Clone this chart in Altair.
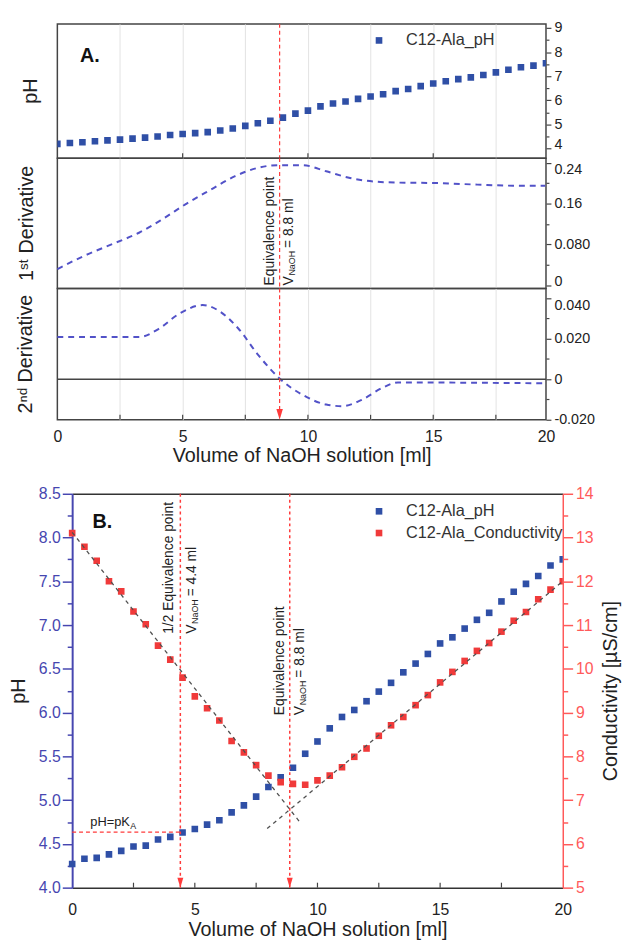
import altair as alt
import pandas as pd

FONT = "Liberation Sans"
TXT = "#222222"
FRAME = "#444444"
BLUE_PT = "#2f4fa6"
RED_PT = "#f03a3a"
DERIV = "#5252c8"
MARK_RED = "#ff3b3b"
AX_BLUE = "#4646b0"
AX_RED = "#ff5a5a"
FIT = "#505050"
GRID = "#e3e3e3"

# ---------------- data ----------------
a_vol = [0.0, 0.5, 1.0, 1.5, 2.0, 2.5, 3.0, 3.5, 4.0, 4.5, 5.0, 5.5, 6.0, 6.5, 7.0, 7.5, 8.0, 8.5, 9.0, 9.5,
         10.0, 10.5, 11.0, 11.5, 12.0, 12.5, 13.0, 13.5, 14.0, 14.5, 15.0, 15.5, 16.0, 16.5, 17.0, 17.5,
         18.0, 18.5, 19.0, 19.5]
a_ph = [4.19, 4.23, 4.26, 4.30, 4.34, 4.37, 4.41, 4.45, 4.50, 4.56, 4.60, 4.64, 4.68, 4.75, 4.83, 4.94,
        5.05, 5.15, 5.28, 5.45, 5.57, 5.75, 5.87, 5.95, 6.06, 6.16, 6.25, 6.38, 6.47, 6.59, 6.70, 6.79,
        6.88, 6.95, 7.05, 7.16, 7.27, 7.37, 7.44, 7.54]

d1_vol = [0.0, 1.03, 2.30, 3.26, 4.21, 5.16, 6.12, 7.07, 8.02, 8.82, 9.77, 10.73, 11.68, 12.63, 13.59,
          15.18, 16.76, 18.19, 19.47]
d1_val = [0.032, 0.057, 0.083, 0.103, 0.130, 0.160, 0.187, 0.213, 0.230, 0.235, 0.235, 0.223, 0.210,
          0.203, 0.201, 0.200, 0.197, 0.195, 0.195]

d2_vol = [0.0, 3.26, 4.05, 4.85, 5.80, 6.44, 7.23, 8.02, 8.90, 9.77, 10.73, 11.36, 12.16, 12.95, 13.59, 19.47]
d2_val = [0.0208, 0.0208, 0.0249, 0.0322, 0.0366, 0.0338, 0.0249, 0.0119, 0.0, -0.0076, -0.0125,
          -0.0133, -0.0101, -0.0044, -0.0016, -0.0020]

b_vol = [0.0, 0.5, 1.0, 1.5, 2.0, 2.5, 3.0, 3.5, 4.0, 4.5, 5.0, 5.5, 6.0, 6.5, 7.0, 7.5, 8.0, 8.5, 9.0, 9.5,
         10.0, 10.5, 11.0, 11.5, 12.0, 12.5, 13.0, 13.5, 14.0, 14.5, 15.0, 15.5, 16.0, 16.5, 17.0, 17.5,
         18.0, 18.5, 19.0, 19.5, 20.0]
b_ph = [4.27, 4.33, 4.34, 4.38, 4.42, 4.47, 4.48, 4.55, 4.58, 4.63, 4.67, 4.72, 4.77, 4.86, 4.94, 5.04,
        5.15, 5.26, 5.37, 5.53, 5.67, 5.82, 5.95, 6.03, 6.13, 6.24, 6.34, 6.46, 6.56, 6.67, 6.79, 6.86,
        6.96, 7.06, 7.14, 7.27, 7.38, 7.47, 7.56, 7.68, 7.75]
b_cond = [13.10, 12.79, 12.47, 12.00, 11.77, 11.31, 11.02, 10.53, 10.21, 9.80, 9.37, 9.10, 8.82, 8.35,
          8.09, 7.80, 7.56, 7.41, 7.37, 7.35, 7.45, 7.56, 7.75, 7.99, 8.18, 8.47, 8.71, 8.90, 9.17, 9.40,
          9.69, 9.93, 10.18, 10.41, 10.59, 10.85, 11.10, 11.30, 11.59, 11.81, 12.00]

fit_down_vol = [0.0, 9.25]
fit_down_cond = [13.12, 6.52]
fit_up_vol = [7.95, 20.0]
fit_up_cond = [6.35, 12.0]

eq_marker_vol = 8.87
half_marker_vol = 4.41
pka_ph = 4.635

inner_tick_vol = [2.5, 5, 7.5, 10, 12.5, 15, 17.5]
top_tick_vol = [5, 10, 15]

SER_PH = "C12-Ala_pH"
SER_COND = "C12-Ala_Conductivity"
X_TITLE = "Volume of NaOH solution [ml]"


def lab_expr(pairs):
    expr = "''"
    for v, s in reversed(pairs):
        expr = f"(abs(datum.value - ({v})) < 1e-6) ? '{s}' : {expr}"
    return expr


def right_axis(values, pairs, major_test, low=None, high=None):
    conds = []
    if low is not None:
        conds.append({"test": f"abs(datum.value - ({low})) < 1e-6", "value": "alphabetic"})
    if high is not None:
        conds.append({"test": f"abs(datum.value - ({high})) < 1e-6", "value": "top"})
    baseline = {"condition": conds, "value": "middle"} if conds else "middle"
    return alt.Axis(orient="right", values=values, labelExpr=lab_expr(pairs), labelOverlap=False,
                    tickSize={"condition": {"test": major_test, "value": 5}, "value": 3},
                    labelBaseline=baseline,
                    labelFontSize=14.5, ticks=True, tickColor=FRAME, tickWidth=1.2, domain=False, grid=False,
                    labelColor=TXT, labelPadding=3, labelFont=FONT, title=None)


def legend(x, y):
    return alt.Legend(orient="none", legendX=x, legendY=y, title=None, symbolType="square",
                      symbolSize=45, labelFontSize=16.5, labelFont=FONT, labelColor="#333333",
                      labelOffset=19, rowPadding=5, padding=0, symbolStrokeWidth=0, symbolOpacity=1,
                      labelLimit=400)


class Panel:
    """Encodings of one panel, every layer carrying the same scales and axes."""

    def __init__(self, xs, xaxis, yfield, ys, yaxis):
        self.xs, self.xaxis, self.yfield, self.ys, self.yaxis = xs, xaxis, yfield, ys, yaxis

    def x(self, field="vol"):
        return alt.X(f"{field}:Q", scale=self.xs, axis=self.xaxis)

    def y(self):
        return alt.Y(f"{self.yfield}:Q", scale=self.ys, axis=self.yaxis)

    def rot_text(self, vol, yval, text):
        df = pd.DataFrame({"vol": [vol], self.yfield: [yval]})
        return alt.Chart(df).mark_text(text=text, angle=270, align="left", baseline="middle", fontSize=14,
                                       font=FONT, color=TXT).encode(x=self.x(), y=self.y())

    def v_naoh(self, vol, yval, rest):
        df = pd.DataFrame({"vol": [vol], self.yfield: [yval]})
        base = alt.Chart(df).encode(x=self.x(), y=self.y())
        common = dict(angle=270, align="left", baseline="middle", font=FONT, color=TXT)
        return [base.mark_text(text="V", fontSize=14, **common),
                base.mark_text(text="NaOH", fontSize=9, dx=10, dy=3, **common),
                base.mark_text(text=rest, fontSize=14, dx=38, **common)]

    def ticks(self, vols, yval):
        df = pd.DataFrame({"vol": vols, self.yfield: [yval] * len(vols)})
        return alt.Chart(df).mark_tick(orient="vertical", size=5, thickness=1.2, color=FRAME, opacity=1,
                                       yOffset=-2.5).encode(x=self.x(), y=self.y())

    def vrule(self, vols, dash, width):
        df = pd.DataFrame({"vol": vols})
        return alt.Chart(df).mark_rule(color=MARK_RED, strokeDash=dash, strokeWidth=width).encode(x=self.x())

    def arrows(self, vols, yval, size):
        df = pd.DataFrame({"vol": vols, self.yfield: [yval] * len(vols)})
        return alt.Chart(df).mark_point(shape="M-0.3,-1L0.3,-1L0,0Z", filled=True, size=size, color=MARK_RED,
                                        opacity=1, strokeWidth=0).encode(x=self.x(), y=self.y())

    def label(self, vol, yval, text):
        df = pd.DataFrame({"vol": [vol], self.yfield: [yval], "t": [text]})
        return alt.Chart(df).mark_text(align="left", baseline="alphabetic", fontSize=20, fontWeight="bold",
                                       font=FONT, color="#111111").encode(x=self.x(), y=self.y(), text="t:N")


FRAME_VIEW = alt.ViewBackground(stroke=FRAME, strokeWidth=1.5)


def left_title(text):
    return alt.TitleParams(text=text, orient="left", anchor="middle", fontSize=20, fontWeight="normal",
                           offset=17, color=TXT, font=FONT)


# ---------------- panel A ----------------
WA = 495
xs_a = alt.Scale(domain=[0, 19.5], nice=False, zero=False)
grid_axis = alt.Axis(orient="bottom", values=[2.5, 5, 7.5, 10, 12.5, 15, 17.5], grid=True, gridColor=GRID,
                     gridWidth=1, labels=False, ticks=False, domain=False, title=None)

p1 = Panel(xs_a, grid_axis, "ph", alt.Scale(domain=[3.6, 9.17], nice=False, zero=False),
           right_axis([4, 4.5, 5, 5.5, 6, 6.5, 7, 7.5, 8, 8.5, 9],
                      [(4, "4"), (5, "5"), (6, "6"), (7, "7"), (8, "8"), (9, "9")],
                      "abs(datum.value - round(datum.value)) < 1e-6", low=4))
df_a_ph = pd.DataFrame({"vol": a_vol, "ph": a_ph, "series": SER_PH})
a1_pts = alt.Chart(df_a_ph).mark_square(size=45, opacity=1, clip=True).encode(
    x=p1.x(), y=p1.y(),
    color=alt.Color("series:N", scale=alt.Scale(domain=[SER_PH], range=[BLUE_PT]), legend=legend(317.6, 8.5)))
A1 = alt.layer(a1_pts, p1.vrule([eq_marker_vol], [4, 3], 1.2), p1.label(0.9, 7.61, "A.")).properties(
    width=WA, height=136, title=left_title("pH"), view=FRAME_VIEW)

p2 = Panel(xs_a, grid_axis, "d1", alt.Scale(domain=[-0.0058, 0.2487], nice=False, zero=False),
           right_axis([0, 0.04, 0.08, 0.12, 0.16, 0.20, 0.24],
                      [(0, "0"), (0.08, "0.080"), (0.16, "0.16"), (0.24, "0.24")],
                      "abs(datum.value/0.08 - round(datum.value/0.08)) < 1e-6", low=0, high=0.24))
df_d1 = pd.DataFrame({"vol": d1_vol, "d1": d1_val})
a2_line = alt.Chart(df_d1).mark_line(color=DERIV, strokeDash=[6, 5], strokeWidth=2,
                                     interpolate="monotone").encode(x=p2.x(), y=p2.y())
A2 = alt.layer(a2_line, p2.vrule([eq_marker_vol], [4, 3], 1.2), p2.ticks(top_tick_vol, 0.2487),
               p2.rot_text(8.48, 0.0, "Equivalence point"), *p2.v_naoh(9.24, 0.0, "= 8.8 ml")).properties(
    width=WA, height=132, title=left_title("1\u02e2\u1d57 Derivative"), view=FRAME_VIEW)

a3_xaxis = alt.Axis(orient="bottom", values=[0, 2.5, 5, 7.5, 10, 12.5, 15, 17.5, 19.5],
                    grid=True, gridColor=GRID, gridWidth=1,
                    gridOpacity={"condition": {"test": "datum.value < 0.1 || datum.value > 19", "value": 0},
                                 "value": 1},
                    labelExpr="datum.value > 19 ? '20' : (abs(datum.value/5 - round(datum.value/5)) < 1e-6 ? format(datum.value, 'd') : '')",
                    labelFlush=False, labelOverlap=False, ticks=False, domain=False, labelFontSize=16,
                    labelPadding=9, labelColor=TXT, labelFont=FONT, title=X_TITLE, titleFontSize=20,
                    titleFontWeight="normal", titlePadding=1, titleColor=TXT, titleFont=FONT)
p3 = Panel(xs_a, a3_xaxis, "d2", alt.Scale(domain=[-0.02, 0.0448], nice=False, zero=False),
           right_axis([-0.02, -0.01, 0, 0.01, 0.02, 0.03, 0.04],
                      [(-0.02, "-0.020"), (0, "0"), (0.02, "0.020"), (0.04, "0.040")],
                      "abs(datum.value/0.02 - round(datum.value/0.02)) < 1e-6", high=0.04))
df_d2 = pd.DataFrame({"vol": d2_vol, "d2": d2_val})
a3_line = alt.Chart(df_d2).mark_line(color=DERIV, strokeDash=[6, 5], strokeWidth=2,
                                     interpolate="monotone").encode(x=p3.x(), y=p3.y())
df_zero = pd.DataFrame({"d2": [0.0]})
a3_zero = alt.Chart(df_zero).mark_rule(color=FRAME, strokeWidth=1.5).encode(y=p3.y())
A3 = alt.layer(a3_line, a3_zero, p3.vrule([eq_marker_vol], [4, 3], 1.2), p3.arrows([eq_marker_vol], -0.02, 484),
               p3.ticks(inner_tick_vol, -0.02)).properties(
    width=WA, height=133, title=left_title("2\u207f\u1d48 Derivative"), view=FRAME_VIEW)

df_sp = pd.DataFrame({"s": [0.0]})
SPACER = alt.Chart(df_sp).mark_point(opacity=0).encode(
    x=alt.X("s:Q", axis=None), y=alt.Y("s:Q", axis=None)).properties(
    width=10, height=75, view=alt.ViewBackground(stroke="transparent"))

# ---------------- panel B ----------------
WB = 512
xs_b = alt.Scale(domain=[0, 20], nice=False, zero=False, range=[15, WB])
color_b = alt.Scale(domain=[SER_PH, SER_COND], range=[BLUE_PT, RED_PT])

b_xaxis = alt.Axis(orient="bottom", values=[0, 5, 10, 15, 20], ticks=False, domainColor="#333333",
                   domainWidth=1.5, labelFontSize=16, labelPadding=14, labelColor=TXT, labelFont=FONT,
                   labelFlush=False, labelOverlap=False, title=X_TITLE, titleFontSize=20,
                   titleFontWeight="normal", titlePadding=2, titleColor=TXT, titleFont=FONT, grid=False)
b_ph_axis = alt.Axis(orient="left", offset=-15, values=[4 + 0.25 * i for i in range(19)],
                     labelExpr="abs(datum.value*2 - round(datum.value*2)) < 1e-6 ? format(datum.value, '.1f') : ''",
                     labelOverlap=False,
                     tickSize={"condition": {"test": "abs(datum.value*2 - round(datum.value*2)) < 1e-6",
                                             "value": 10}, "value": 5},
                     tickColor=AX_BLUE, tickWidth=1.5, domainColor=AX_BLUE, domainWidth=2,
                     labelColor=AX_BLUE, labelFontSize=16, labelPadding=2, labelFont=FONT,
                     title="pH", titleFontSize=20, titleFontWeight="normal", titleColor=TXT, titleFont=FONT,
                     titlePadding=10, grid=False)
b_cond_axis = alt.Axis(orient="right", values=[5 + 0.5 * i for i in range(19)],
                       labelExpr="abs(datum.value - round(datum.value)) < 1e-6 ? format(datum.value, 'd') : ''",
                       labelOverlap=False,
                       tickSize={"condition": {"test": "abs(datum.value - round(datum.value)) < 1e-6",
                                               "value": 10}, "value": 5},
                       tickColor=AX_RED, tickWidth=1.5, domainColor=AX_RED, domainWidth=1.5,
                       labelColor=AX_RED, labelFontSize=16, labelPadding=3, labelFont=FONT,
                       title="Conductivity [µS/cm]", titleFontSize=20, titleFontWeight="normal",
                       titleColor=TXT, titleFont=FONT, titleAngle=270, titleBaseline="top",
                       titlePadding=8, grid=False)
b_top_axis = alt.Axis(orient="top", labels=False, ticks=False, domainColor="#333333", domainWidth=1.5,
                      title=None, grid=False)

pb = Panel(xs_b, b_xaxis, "ph", alt.Scale(domain=[4.0, 8.5], nice=False, zero=False), b_ph_axis)
pc = Panel(xs_b, b_top_axis, "cond", alt.Scale(domain=[5, 14], nice=False, zero=False), b_cond_axis)

df_b_ph = pd.DataFrame({"vol": b_vol, "ph": b_ph, "series": SER_PH})
df_b_cond = pd.DataFrame({"vol": b_vol, "cond": b_cond, "series": SER_COND})
df_fit = pd.DataFrame({"vol": fit_down_vol + fit_up_vol, "cond": fit_down_cond + fit_up_cond,
                       "seg": ["down", "down", "up", "up"]})

b_ph_pts = alt.Chart(df_b_ph).mark_square(size=45, opacity=1, clip=True).encode(
    x=pb.x(), y=pb.y(), color=alt.Color("series:N", scale=color_b, legend=legend(317.6, 9.5)))
df_pka = pd.DataFrame({"vol": [0.0], "vol2": [half_marker_vol], "ph": [pka_ph]})
b_pka = alt.Chart(df_pka).mark_rule(color=MARK_RED, strokeDash=[4, 3], strokeWidth=1.2).encode(
    x=pb.x(), x2="vol2:Q", y=pb.y())
df_pka_lbl = pd.DataFrame({"vol": [0.74], "ph": [4.70]})
pka_base = alt.Chart(df_pka_lbl).encode(x=pb.x(), y=pb.y())
pka_t1 = pka_base.mark_text(text="pH=pK", align="left", baseline="alphabetic", fontSize=13, font=FONT,
                            color=TXT)
pka_t2 = pka_base.mark_text(text="A", align="left", baseline="alphabetic", fontSize=9, dx=40.5, dy=3,
                            font=FONT, color=TXT)

ph_group = alt.layer(
    b_ph_pts,
    pb.vrule([half_marker_vol, eq_marker_vol], [3, 3], 1.5),
    pb.arrows([half_marker_vol, eq_marker_vol], 4.0, 400),
    b_pka, pka_t1, pka_t2,
    pb.label(0.83, 8.105, "B."),
    pb.ticks(inner_tick_vol, 4.0),
    pb.rot_text(3.97, 6.90, "1/2 Equivalence point"),
    *pb.v_naoh(4.90, 6.90, "= 4.4 ml"),
    pb.rot_text(8.49, 5.97, "Equivalence point"),
    *pb.v_naoh(9.29, 5.97, "= 8.8 ml"),
)

b_fit = alt.Chart(df_fit).mark_line(color=FIT, strokeDash=[4, 4], strokeWidth=1.3).encode(
    x=pc.x(), y=pc.y(), detail="seg:N")
b_cond_pts = alt.Chart(df_b_cond).mark_square(size=45, opacity=1, clip=True).encode(
    x=pc.x(), y=pc.y(), color=alt.Color("series:N", scale=color_b, legend=legend(317.6, 9.5)))
cond_group = alt.layer(b_cond_pts, b_fit)

B = alt.layer(ph_group, cond_group).resolve_scale(y="independent").resolve_axis(x="independent").properties(
    width=WB, height=399, view=alt.ViewBackground(stroke="transparent"))

chart = alt.vconcat(A1, A2, A3, SPACER, B, spacing=0, bounds="flush").resolve_scale(
    color="independent").properties(
    padding={"left": 0, "top": 5, "right": 0, "bottom": 0}, background="white"
).configure_axis(labelOverlap=False)

chart.save("out.html", embed_options={"renderer": "svg", "actions": False})
